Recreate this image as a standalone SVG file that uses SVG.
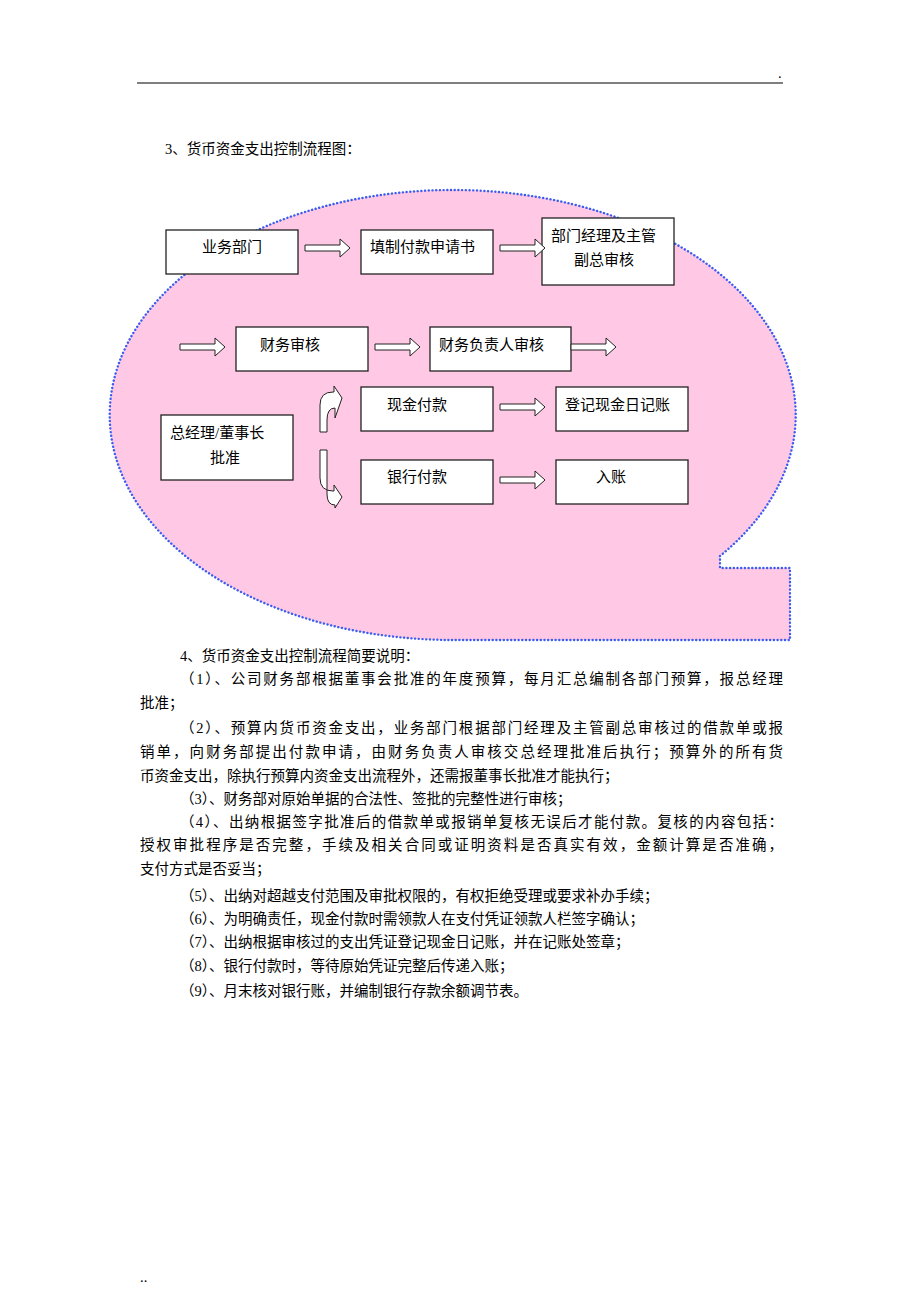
<svg xmlns="http://www.w3.org/2000/svg" width="920" height="1302" viewBox="0 0 920 1302">
<defs><style>
.t{font-family:"Liberation Serif","Noto Sans CJK SC",serif;font-size:14.5px;fill:#000}
.b{fill:#fff;stroke:#222;stroke-width:1.3}
.bl{font-family:"Liberation Serif","Noto Sans CJK SC",serif;font-size:15px;fill:#000}
.ar{fill:#fff;stroke:#222;stroke-width:1}
</style>
<path id="ba" d="M0,-3 L35,-3 L35,-9 L45,0 L35,9 L35,3 L0,3 Z"/>
</defs>
<rect width="920" height="1302" fill="#fff"/>
<line x1="137" y1="83" x2="783" y2="83" stroke="#000" stroke-width="1"/>
<text x="778" y="78" class="t" font-size="10">.</text>
<text x="140" y="1282" class="t" font-size="10">..</text>
<text x="165" y="154" class="t">3、货币资金支出控制流程图：</text>
<path d="M720,556 A343,225 0 1 0 452,640 L790,640 L790,568 L720,568 Z" fill="#ffc8e4" stroke="#3b5cf0" stroke-width="2.4" stroke-linecap="round" stroke-dasharray="0.1,3.6"/>
<g id="n1"><rect class="b" x="166" y="230" width="132" height="44"/><text class="bl" x="202" y="252">业务部门</text></g>
<g id="n2"><rect class="b" x="361" y="230" width="132" height="44"/><text class="bl" x="370" y="252">填制付款申请书</text></g>
<g id="n3"><rect class="b" x="542" y="218" width="132" height="67"/><text class="bl" x="551" y="241">部门经理及主管</text><text class="bl" x="574" y="265">副总审核</text></g>
<g id="n4"><rect class="b" x="236" y="327" width="132" height="44"/><text class="bl" x="260" y="350">财务审核</text></g>
<g id="n5"><rect class="b" x="430" y="327" width="141" height="44"/><text class="bl" x="439" y="350">财务负责人审核</text></g>
<g id="n6"><rect class="b" x="361" y="387" width="132" height="44"/><text class="bl" x="387" y="410">现金付款</text></g>
<g id="n7"><rect class="b" x="556" y="387" width="132" height="44"/><text class="bl" x="565" y="410">登记现金日记账</text></g>
<g id="n8"><rect class="b" x="161" y="415" width="132" height="65"/><text class="bl" x="170" y="438">总经理/董事长</text><text class="bl" x="210" y="463" font-size="17">批准</text></g>
<g id="n9"><rect class="b" x="361" y="460" width="132" height="44"/><text class="bl" x="387" y="482">银行付款</text></g>
<g id="n10"><rect class="b" x="556" y="460" width="132" height="44"/><text class="bl" x="596" y="482">入账</text></g>
<g id="connectors">
<use href="#ba" class="ar" x="305" y="248"/>
<use href="#ba" class="ar" x="500" y="248"/>
<use href="#ba" class="ar" x="180" y="347"/>
<use href="#ba" class="ar" x="375" y="347"/>
<use href="#ba" class="ar" x="571" y="347"/>
<use href="#ba" class="ar" x="500" y="407"/>
<use href="#ba" class="ar" x="500" y="480"/>
<path class="ar" d="M320,432 L320,405 Q320,392 333,392 L334,392 L334,386 L342,398 L335,418 L335,408 Q327,408 327,420 L327,432 Z"/>
<path class="ar" d="M320,450 L320,478 Q320,491 333,491 L334,491 L334,485 L342,497 L335,508 L335,505 Q327,505 327,494 L327,450 Z"/>
</g>
<g class="t">
<text x="180" y="661">4、货币资金支出控制流程简要说明：</text>
<text x="180" y="684" textLength="603">（1）、公司财务部根据董事会批准的年度预算，每月汇总编制各部门预算，报总经理</text>
<text x="140" y="708">批准；</text>
<text x="180" y="733" textLength="603">（2）、预算内货币资金支出，业务部门根据部门经理及主管副总审核过的借款单或报</text>
<text x="140" y="757" textLength="643">销单，向财务部提出付款申请，由财务负责人审核交总经理批准后执行；预算外的所有货</text>
<text x="140" y="781">币资金支出，除执行预算内资金支出流程外，还需报董事长批准才能执行；</text>
<text x="180" y="804">（3）、财务部对原始单据的合法性、签批的完整性进行审核；</text>
<text x="180" y="827" textLength="603">（4）、出纳根据签字批准后的借款单或报销单复核无误后才能付款。复核的内容包括：</text>
<text x="140" y="850" textLength="643">授权审批程序是否完整，手续及相关合同或证明资料是否真实有效，金额计算是否准确，</text>
<text x="140" y="874">支付方式是否妥当；</text>
<text x="180" y="901">（5）、出纳对超越支付范围及审批权限的，有权拒绝受理或要求补办手续；</text>
<text x="180" y="924">（6）、为明确责任，现金付款时需领款人在支付凭证领款人栏签字确认；</text>
<text x="180" y="947">（7）、出纳根据审核过的支出凭证登记现金日记账，并在记账处签章；</text>
<text x="180" y="971">（8）、银行付款时，等待原始凭证完整后传递入账；</text>
<text x="180" y="996">（9）、月末核对银行账，并编制银行存款余额调节表。</text>
</g>
</svg>
